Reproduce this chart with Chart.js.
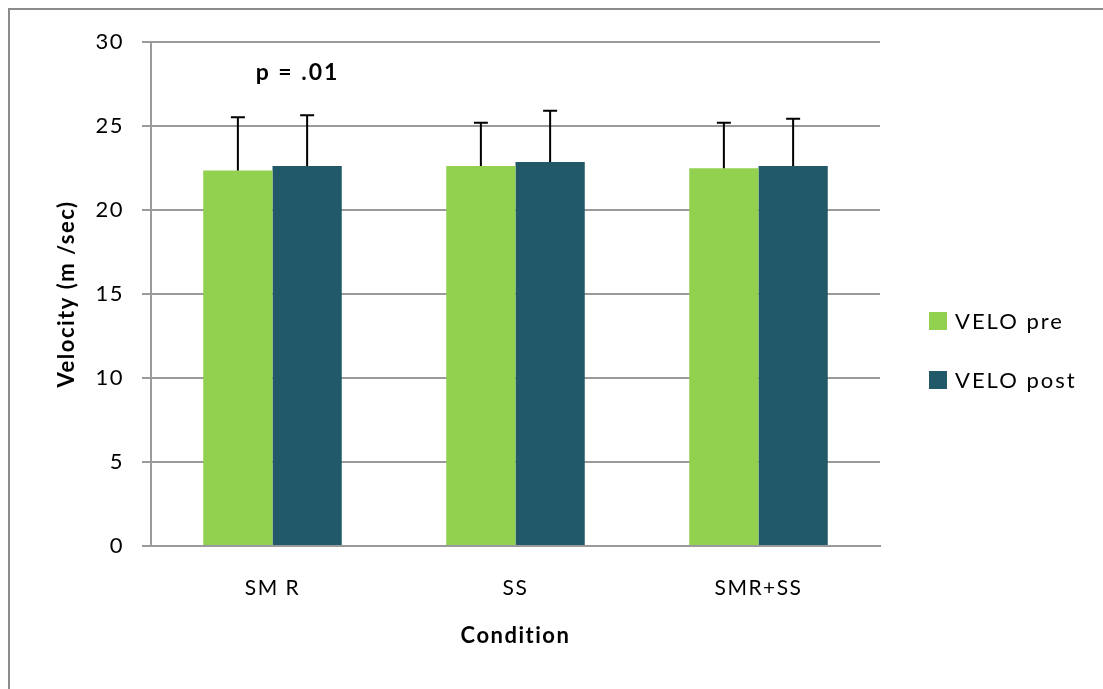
<!DOCTYPE html>
<html>
<head>
<meta charset="utf-8">
<script src="https://cdn.jsdelivr.net/npm/chart.js@4/dist/chart.umd.min.js"></script>
<style>
  body { margin: 0; background: #fff; }
  #frame { position: absolute; left: 8px; top: 8px; width: 1200px; height: 800px;
           border: 2px solid #8c8c8c; box-sizing: border-box; }
  #wrap { position: absolute; left: 0; top: 0; width: 1103px; height: 689px; }
</style>
</head>
<body>
<div id="frame"></div>
<div id="wrap"><canvas id="myChart"></canvas></div>
<script>
// chart data
const conditions = ['SM R', 'SS', 'SMR+SS'];
const veloPre = [22.35, 22.62, 22.48];
const veloPost = [22.62, 22.86, 22.62];
const veloPreErr = [3.17, 2.58, 2.72];
const veloPostErr = [3.02, 3.05, 2.81];
const yTicks = [0, 5, 10, 15, 20, 25, 30];
const pNote = 'p = .01';

const fontFamily = 'Lato, "Open Sans", sans-serif';

// wider letter spacing, the original text is rendered quite loose
const spacing = {
    id: 'spacing',
    beforeUpdate(chart) { chart.ctx.letterSpacing = '1.5px'; },
    beforeDraw(chart) { chart.ctx.letterSpacing = '1.5px'; },
};

// draws error bars, the p-value note and the legend
const extras = {
    id: 'extras',
    afterDatasetsDraw(chart) {
        const ctx = chart.ctx;
        const y = chart.scales.y;
        ctx.save();
        ctx.strokeStyle = '#000';
        ctx.lineWidth = 2;
        chart.data.datasets.forEach((ds, i) => {
            const meta = chart.getDatasetMeta(i);
            meta.data.forEach((bar, j) => {
                const top = y.getPixelForValue(ds.data[j] + ds.errors[j]);
                ctx.beginPath();
                ctx.moveTo(bar.x, bar.y);
                ctx.lineTo(bar.x, top);
                ctx.moveTo(bar.x - 7, top);
                ctx.lineTo(bar.x + 7, top);
                ctx.stroke();
            });
        });
        // p value above SMR
        const x = chart.scales.x;
        ctx.fillStyle = '#000';
        ctx.letterSpacing = '2px';
        ctx.font = 'bold 23px ' + fontFamily;
        ctx.textAlign = 'center';
        ctx.textBaseline = 'middle';
        ctx.fillText(pNote, x.getPixelForValue(0) + 25, y.getPixelForValue(28.2));

        // legend
        ctx.font = '22px ' + fontFamily;
        ctx.textAlign = 'left';
        chart.data.datasets.forEach((ds, i) => {
            const cy = 321 + i * 59;
            ctx.fillStyle = ds.backgroundColor;
            ctx.fillRect(929, cy - 9, 18, 18);
            ctx.fillStyle = '#000';
            ctx.fillText(ds.label, 955, cy + 1);
        });
        ctx.restore();
    }
};

var ctx = document.getElementById('myChart').getContext('2d');
var myChart = new Chart(ctx, {
    type: 'bar',
    data: {
        labels: conditions,
        datasets: [{
            label: 'VELO pre',
            data: veloPre,
            errors: veloPreErr,
            backgroundColor: '#92d050',
        }, {
            label: 'VELO post',
            data: veloPost,
            errors: veloPostErr,
            backgroundColor: '#215968',
        }],
    },
    options: {
        responsive: true,
        maintainAspectRatio: false,
        animation: false,
        layout: { padding: { top: 42, right: 223, left: 0, bottom: 0 } },
        datasets: { bar: { categoryPercentage: 0.57, barPercentage: 1.0 } },
        plugins: {
            legend: { display: false },
            tooltip: { enabled: false },
        },
        scales: {
            x: {
                grid: { display: true, drawOnChartArea: false, drawTicks: false },
                border: { color: '#9a9a9a', width: 2 },
                ticks: { color: '#000', padding: 30, font: { family: fontFamily, size: 21 } },
                title: {
                    display: true, text: 'Condition', color: '#000',
                    font: { family: fontFamily, size: 22, weight: 'bold' },
                    padding: { top: 0, bottom: 40 },
                },
                afterFit(scale) { scale.height = 143; },
            },
            y: {
                min: 0,
                max: 30,
                afterBuildTicks(scale) { scale.ticks = yTicks.map(v => ({ value: v })); },
                grid: { color: '#9a9a9a', lineWidth: 2, tickLength: 9 },
                border: { color: '#9a9a9a', width: 2 },
                ticks: { color: '#000', padding: 18, font: { family: fontFamily, size: 22 } },
                title: {
                    display: true, text: 'Velocity (m /sec)', color: '#000',
                    font: { family: fontFamily, size: 22, weight: 'bold' },
                    padding: { top: 54, bottom: 0 },
                },
                afterFit(scale) { scale.width = 151; },
            },
        },
    },
    plugins: [spacing, extras],
});
</script>
</body>
</html>
